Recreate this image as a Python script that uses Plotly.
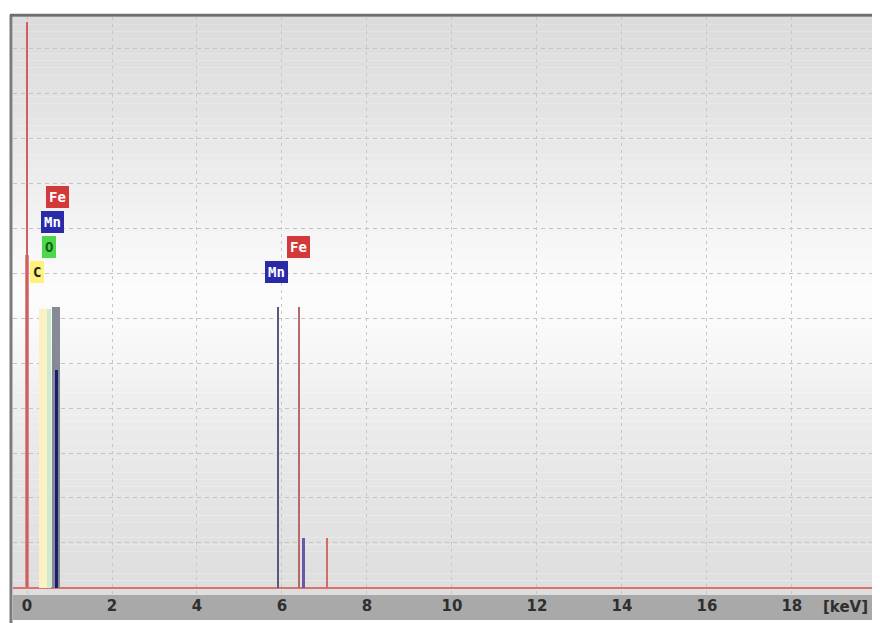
import plotly.graph_objects as go
import numpy as np

# peak lines: energy [keV], height (grid units), width [keV], colour
peak_kev = [0.375, 0.515, 0.685, 0.0, 0.0, 0.69, 5.90, 6.40, 6.50, 7.06]
peak_height = [6.2, 6.2, 6.24, 7.4, 12.58, 4.84, 6.24, 6.24, 1.11, 1.11]
peak_width = [0.19, 0.09, 0.19, 0.11, 0.04, 0.07, 0.05, 0.05, 0.07, 0.05]
peak_color = ['#fbf1c2', '#cdeccd', '#858a94', '#d98a8a', '#cf5f5f',
              '#1b1b70', '#565b7a', '#b46b6b', '#6a58a6', '#d46a6a']

# element markers
label_text = ['Fe', 'Mn', 'O', 'C', 'Fe', 'Mn']
label_kev = [0.71, 0.61, 0.52, 0.24, 6.38, 5.88]
label_level = [8.69, 8.13, 7.58, 7.02, 7.58, 7.02]
label_bg = ['#d23a3a', '#2a2aa8', '#4cd84c', '#fff27a', '#d23a3a', '#2a2aa8']
label_fg = ['white', 'white', '#1a5a1a', '#222222', 'white', 'white']

tick_vals = list(range(0, 20, 2))

fig = go.Figure()
for e, h, w, c in zip(peak_kev, peak_height, peak_width, peak_color):
    fig.add_trace(go.Bar(x=[e], y=[h], width=w, marker_color=c,
                         marker_line_width=0, showlegend=False))

# background gradient in strips
shapes = []
n = 80
pts_y = [0, 83, 183, 273, 313, 403, 503, 578]
pts_b = [220, 227, 240, 253, 250, 236, 227, 222]
for i in range(n):
    y0 = i / n
    y1 = (i + 1) / n
    pix = (1 - (y0 + y1) / 2) * 578
    b = int(np.interp(pix, pts_y, pts_b))
    shapes.append(dict(type='rect', xref='paper', yref='paper', x0=0, x1=1,
                       y0=y0, y1=y1, layer='below', line_width=0,
                       fillcolor='rgb(%d,%d,%d)' % (b, b, b)))
# axis band and frame
shapes.append(dict(type='rect', xref='paper', yref='paper', x0=0, x1=1,
                   y0=-25 / 578, y1=0, fillcolor='#a9a9a9', line_width=0, layer='below'))
shapes.append(dict(type='line', xref='paper', yref='paper', x0=-2 / 863, x1=-2 / 863,
                   y0=-28 / 578, y1=1.004, line=dict(color='#7a7a7a', width=3)))
shapes.append(dict(type='line', xref='paper', yref='paper', x0=-3 / 863, x1=1,
                   y0=1.003, y1=1.003, line=dict(color='#6f6f6f', width=3)))

annotations = []
for t, x, y, bg, fg in zip(label_text, label_kev, label_level, label_bg, label_fg):
    annotations.append(dict(x=x, y=y, xref='x', yref='y', text='<b>%s</b>' % t,
                            showarrow=False, bgcolor=bg, bordercolor=bg, borderpad=2,
                            xanchor='center', yanchor='middle',
                            font=dict(family='DejaVu Sans Mono', size=14, color=fg)))
annotations.append(dict(x=(845 - 13) / 863, y=-12 / 578, xref='paper', yref='paper',
                        text='[keV]', showarrow=False, xanchor='center', yanchor='middle',
                        font=dict(family='DejaVu Sans', size=15, color='#2f2f2f',
                                  weight='bold')))

# page body has an 8px margin, so the figure is shrunk by that much
fig.update_layout(
    width=872, height=615,
    margin=dict(l=5, r=4, t=9, b=28),
    paper_bgcolor='white', plot_bgcolor='rgba(0,0,0,0)',
    barmode='overlay', bargap=0, showlegend=False,
    shapes=shapes, annotations=annotations,
)
fig.update_xaxes(range=[-0.33, 19.98], tickvals=tick_vals, showgrid=True,
                 gridcolor='#c6c6c6', griddash='3px,4px', gridwidth=1,
                 zeroline=False, showline=False, ticks='',
                 tickfont=dict(family='DejaVu Sans', size=15, color='#2f2f2f',
                               weight='bold'))
fig.update_yaxes(range=[-0.156, 12.69], dtick=1, tick0=0, showgrid=True,
                 gridcolor='#c4c4c4', griddash='4px,4px', gridwidth=1,
                 zeroline=True, zerolinecolor='#d9736e', zerolinewidth=1.5,
                 showticklabels=False, ticks='', showline=False)

fig.write_html("out.html")
